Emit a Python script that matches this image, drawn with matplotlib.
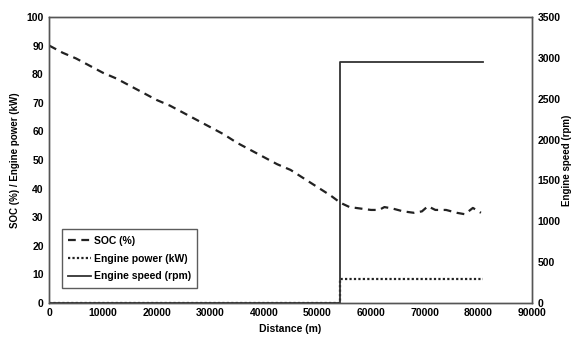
import matplotlib
matplotlib.use("Agg")
import matplotlib.pyplot as plt

plt.rcParams["font.family"] = ["Liberation Sans", "DejaVu Sans"]
plt.rcParams["font.weight"] = "bold"

# SOC trace (distance in m, SOC in %)
soc_dist = [0, 2500, 5000, 7500, 10000, 12500, 15000, 17500, 20000, 22500, 25000,
            27500, 30000, 32500, 35000, 37500, 40000, 42500, 45000, 47500, 50000,
            52500, 54300, 56000, 58000, 60000, 61500, 62500, 64000, 66000, 68000,
            69500, 70600, 72000, 74000, 76000, 77500, 79000, 80500]
soc_vals = [90, 87.5, 85.5, 83, 80.5, 78.5, 76, 73.5, 71, 69, 66.5,
            64, 61.5, 59, 56, 53.5, 51, 48.5, 46.5, 43.5, 40.5,
            37.5, 35, 33.5, 33, 32.5, 32.5, 33.5, 33, 32, 31.5,
            32, 33.8, 32.5, 32.5, 31.5, 31, 33.2, 31.5]

# engine power (kW) and engine speed (rpm)
eng_dist = [0, 54300, 54300, 80800]
power_vals = [0, 0, 8.5, 8.5]
speed_vals = [0, 0, 2950, 2950]

fig, ax = plt.subplots(figsize=(5.8, 3.41), dpi=100)
fig.subplots_adjust(left=0.085, right=0.917, top=0.95, bottom=0.112)
ax2 = ax.twinx()

frame_color = "#555555"
l1, = ax.plot(soc_dist, soc_vals, color="#222222", linestyle=(0, (3.5, 2.5)), linewidth=1.6, label="SOC (%)")
l2, = ax.plot(eng_dist, power_vals, color="#222222", linestyle=(0, (1, 1)), linewidth=1.6, label="Engine power (kW)")
l3, = ax2.plot(eng_dist, speed_vals, color="#333333", linestyle="-", linewidth=1.3, label="Engine speed (rpm)")

ax.set_xlim(0, 90000)
ax.set_ylim(0, 100)
ax2.set_ylim(0, 3500)
ax.set_xticks(range(0, 90001, 10000))
ax.set_yticks(range(0, 101, 10))
ax2.set_yticks(range(0, 3501, 500))

for a in (ax, ax2):
    for s in a.spines.values():
        s.set_color(frame_color)
        s.set_linewidth(1.0)
    a.tick_params(length=0, labelsize=7.5, pad=4)
    for lab in a.get_xticklabels() + a.get_yticklabels():
        lab.set_fontweight("bold")

ax.set_xlabel("Distance (m)", fontsize=7.5, fontweight="bold", labelpad=4)
ax.set_ylabel("SOC (%) / Engine power (kW)", fontsize=7, fontweight="bold", labelpad=5)
ax2.set_ylabel("Engine speed (rpm)", fontsize=7, fontweight="bold")
ax2.yaxis.set_label_coords(1.062, 0.5)

leg = ax.legend(handles=[l1, l2, l3], loc="lower left", bbox_to_anchor=(0.015, 0.035),
                fontsize=7.5, frameon=True, fancybox=False, handlelength=2.2,
                handletextpad=0.3, labelspacing=0.75, borderpad=0.6)
leg.get_frame().set_edgecolor("#333333")
leg.get_frame().set_linewidth(1.0)

fig.savefig("out.png", dpi=100)
